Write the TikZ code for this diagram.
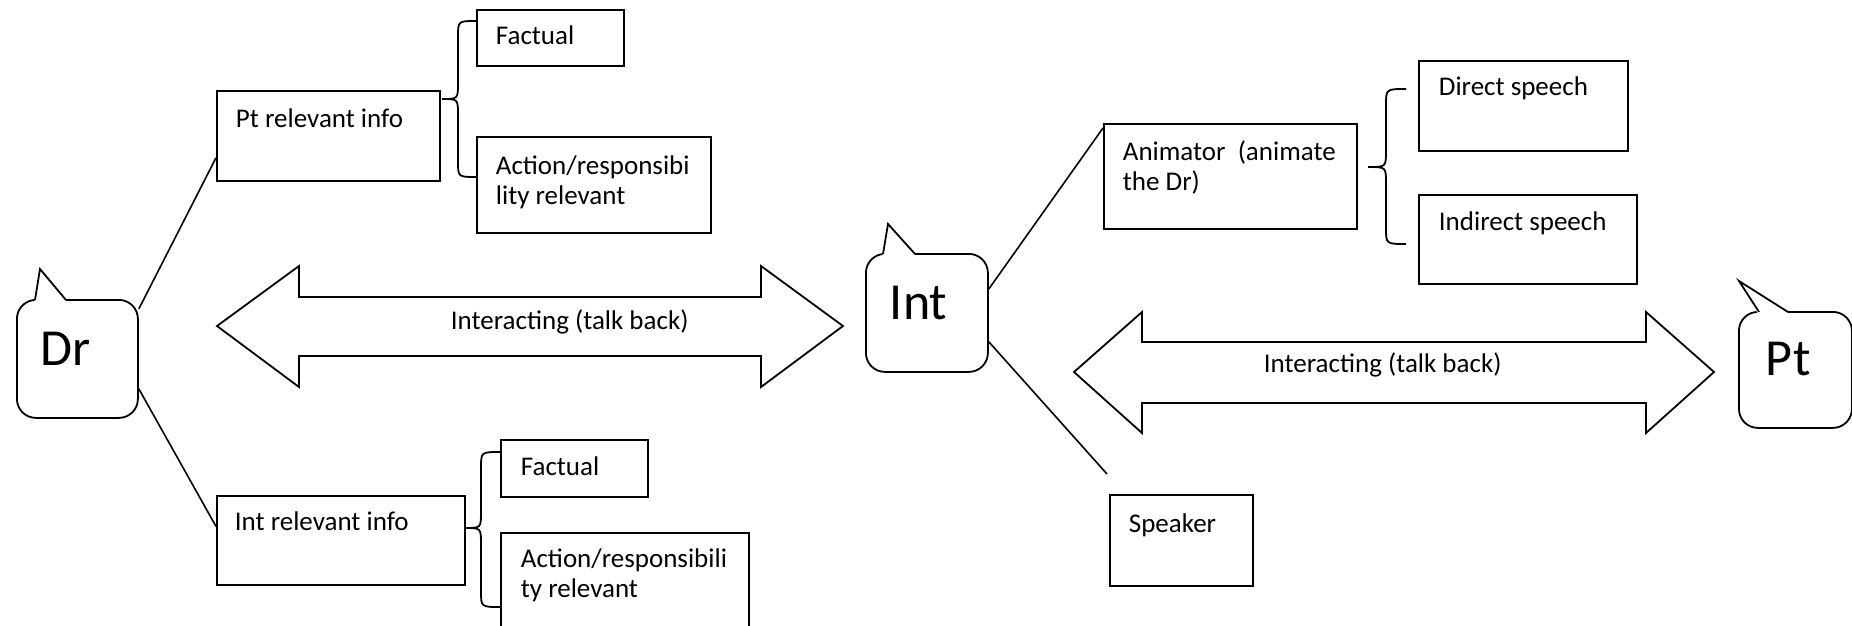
\documentclass[tikz,border=0pt]{standalone}
\usepackage{fontspec}
\setmainfont{Carlito}
% curly brace: tip x, tip y, spine x, end x, top y, bottom y
\newcommand\curlybr[6]{%
  \draw (#4,#5) .. controls (#3,#5) .. (#3,#5+16) -- (#3,#2-16)
        .. controls (#3,#2) .. (#1,#2) .. controls (#3,#2) .. (#3,#2+16)
        -- (#3,#6-16) .. controls (#3,#6) .. (#4,#6);}
% speech-bubble tail: left base x, tip x, tip y, right base x, base y
\newcommand\bubtail[5]{%
  \fill[white] (#1-0.5,#5+3) -- (#2,#3) -- (#4+1,#5+3) -- cycle;
  \draw (#1,#5+1) -- (#2,#3) -- (#4,#5+1);}
\begin{document}
\begin{tikzpicture}[x=1pt,y=-1pt,line width=1.8pt,line join=miter,
  box/.style={draw,rectangle,inner sep=0pt,anchor=north west},
  bubble/.style={draw,rectangle,rounded corners=19pt,inner sep=0pt,anchor=north west,fill=white},
  lbl/.style={inner sep=0pt,anchor=base west,font=\fontsize{27}{30}\selectfont},
  big/.style={inner sep=0pt,anchor=base west,font=\fontsize{52}{60}\selectfont},
  wire/.style={line width=1.6pt}]
\useasboundingbox (0,0) rectangle (1852,625);

% speakers
\node[bubble,minimum width=121pt,minimum height=118pt] (dr) at (16,299) {};
\bubtail{35}{40}{269}{66}{299}
\node[big] (drt) at (40,365) {Dr};

\node[bubble,minimum width=122pt,minimum height=118pt] (int) at (865,253) {};
\bubtail{883}{888}{224}{915}{253}
\node[big] (intt) at (889,319) {Int};

\node[bubble,minimum width=113pt,minimum height=116pt] (pt) at (1738,311) {};
\fill[white] (1758,314) -- (1739,281) -- (1790,314) -- cycle;
\draw (1759,312) -- (1739,281) -- (1788,312);
\node[big] (ptt) at (1765,375) {Pt};

% left branch boxes
\node[box,minimum width=223pt,minimum height=90pt] (pri) at (216,90) {};
\node[lbl] (prit) at (235,127) {Pt relevant info};
\node[box,minimum width=147pt,minimum height=56pt] (fac1) at (476,9) {};
\node[lbl] (fac1t) at (495,44) {Factual};
\node[box,minimum width=234pt,minimum height=96pt] (act1) at (476,136) {};
\node[lbl] (act1a) at (495,174) {Action/responsibi};
\node[lbl] (act1b) at (495,204) {lity relevant};

\node[box,minimum width=248pt,minimum height=89pt] (iri) at (216,495) {};
\node[lbl] (irit) at (234,530) {Int relevant info};
\node[box,minimum width=147pt,minimum height=57pt] (fac2) at (500,439) {};
\node[lbl] (fac2t) at (520,475) {Factual};
\node[box,minimum width=248pt,minimum height=110pt] (act2) at (500,532) {};
\node[lbl] (act2a) at (520,567) {Action/responsibili};
\node[lbl] (act2b) at (520,597) {ty relevant};

% right branch boxes
\node[box,minimum width=253pt,minimum height=105pt] (anim) at (1103,123) {};
\node[lbl] (anima) at (1122,160) {Animator\ \ (animate};
\node[lbl] (animb) at (1122,190) {the Dr)};
\node[box,minimum width=209pt,minimum height=90pt] (dir) at (1418,60) {};
\node[lbl] (dirt) at (1438,95) {Direct speech};
\node[box,minimum width=218pt,minimum height=89pt] (ind) at (1418,194) {};
\node[lbl] (indt) at (1438,230) {Indirect speech};
\node[box,minimum width=143pt,minimum height=91pt] (spk) at (1109,494) {};
\node[lbl] (spkt) at (1128,532) {Speaker};

% connectors
\draw[wire] ([yshift=-10pt]dr.north east) -- ([yshift=24pt]pri.south west);
\draw[wire] ([yshift=30pt]dr.south east) -- ([yshift=14pt]iri.west);
\draw[wire] ([yshift=-36pt]int.north east) -- ([yshift=-5pt]anim.north west);
\coordinate (spkend) at ([shift={(-2pt,20pt)}]spk.north west);
\draw[wire] ([yshift=31pt]int.south east) -- (spkend);

% braces
\curlybr{442}{99}{458}{476}{21}{177}
\curlybr{465}{528}{481}{500}{452}{607}
\curlybr{1368}{167}{1386}{1406}{89}{244}

% two-way interaction arrows
\draw (217,326) -- (299,266) -- (299,297) -- (761,297) -- (761,266) -- (843,326)
  -- (761,387) -- (761,356) -- (299,356) -- (299,387) -- cycle;
\node[lbl] (talk1) at (450,329) {Interacting (talk back)};
\draw (1074,372) -- (1142,312) -- (1142,342) -- (1646,342) -- (1646,312) -- (1714,372)
  -- (1646,433) -- (1646,403) -- (1142,403) -- (1142,433) -- cycle;
\node[lbl] (talk2) at (1263,372) {Interacting (talk back)};
\end{tikzpicture}
\end{document}
